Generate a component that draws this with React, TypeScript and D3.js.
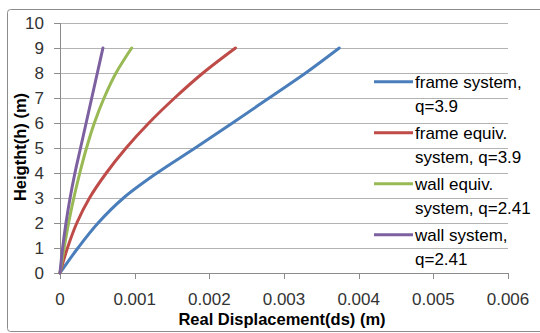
import React from 'react';
import * as d3 from 'd3';

// heights (m) and displacements (m)
const heights = [0, 1, 2, 3, 4, 5, 6, 7, 8, 9];
const frameSystem = [0, 0.00024, 0.00051, 0.00085, 0.0013, 0.00181, 0.00231, 0.0028, 0.00329, 0.00374];
const frameEquiv = [0, 0.0001, 0.000225, 0.000395, 0.00062, 0.000885, 0.00119, 0.001535, 0.001915, 0.00235];
const wallEquiv = [0, 0.000055, 0.000115, 0.000185, 0.000265, 0.000355, 0.00046, 0.00059, 0.00075, 0.00096];
const wallSystem = [0, 0.000035, 0.00008, 0.000135, 0.0002, 0.000275, 0.00035, 0.000425, 0.0005, 0.000575];

const seriesNames = [
  ['frame system,', 'q=3.9'],
  ['frame equiv.', 'system, q=3.9'],
  ['wall equiv.', 'system, q=2.41'],
  ['wall system,', 'q=2.41'],
];
const seriesColors = ['#4a7ebb', '#be4b48', '#98b954', '#7d60a0'];
const xTicks = [0, 0.001, 0.002, 0.003, 0.004, 0.005, 0.006];
const yTicks = [0, 1, 2, 3, 4, 5, 6, 7, 8, 9, 10];

const W = 540;
const H = 333;
const left = 60, right = 508, top = 23, bottom = 273;
const font = '"Liberation Sans", Arial, sans-serif';

export default function App() {
  const x = d3.scaleLinear().domain([0, 0.006]).range([left, right]);
  const y = d3.scaleLinear().domain([0, 10]).range([bottom, top]);
  const allSeries = [frameSystem, frameEquiv, wallEquiv, wallSystem];

  const line = d3.line<[number, number]>()
    .x(d => x(d[0]))
    .y(d => y(d[1]))
    .curve(d3.curveCatmullRom.alpha(0.5));

  return (
    <svg width={W} height={H} style={{ position: 'absolute', left: 0, top: 0 }} fontFamily={font}>
      <rect x={0} y={0} width={W} height={H} fill="#fff" />
      <rect x={7.5} y={9.5} width={W} height={322} rx={3} fill="#fff" stroke="#8c8c8c" strokeWidth={1} />

      {/* grid */}
      {yTicks.map(t => (
        <line key={'g' + t} x1={left} x2={right} y1={Math.round(y(t)) + 0.5} y2={Math.round(y(t)) + 0.5}
          stroke="#b3b3b3" strokeWidth={1} />
      ))}

      {/* axes */}
      <line x1={left + 0.5} x2={left + 0.5} y1={top} y2={bottom + 0.5} stroke="#8c8c8c" />
      <line x1={left} x2={right} y1={bottom + 0.5} y2={bottom + 0.5} stroke="#8c8c8c" />
      {yTicks.map(t => (
        <g key={'yt' + t}>
          <line x1={left - 6} x2={left} y1={Math.round(y(t)) + 0.5} y2={Math.round(y(t)) + 0.5} stroke="#8c8c8c" />
          <text x={44} y={y(t)} dy="0.35em" textAnchor="end" fontSize={17} fill="#333">{t}</text>
        </g>
      ))}
      {xTicks.map(t => (
        <g key={'xt' + t}>
          <line x1={Math.round(x(t)) + 0.5} x2={Math.round(x(t)) + 0.5} y1={bottom} y2={bottom + 6} stroke="#8c8c8c" />
          <text x={x(t)} y={299} dy="0.35em" textAnchor="middle" fontSize={17} fill="#333">{t}</text>
        </g>
      ))}

      {/* axis titles */}
      <text x={282} y={319} dy="0.35em" textAnchor="middle" fontSize={16.5} fontWeight="bold" fill="#000">
        Real Displacement(ds) (m)
      </text>
      <text transform="translate(20,147) rotate(-90)" dy="0.35em" textAnchor="middle" fontSize={16.5}
        fontWeight="bold" fill="#000">
        Heigtht(h) (m)
      </text>

      {/* series */}
      {allSeries.map((s, i) => (
        <path key={'s' + i}
          d={line(s.map((v, j) => [v, heights[j]] as [number, number])) || ''}
          fill="none" stroke={seriesColors[i]} strokeWidth={3} strokeLinecap="round" strokeLinejoin="round" />
      ))}

      {/* legend */}
      {seriesNames.map((lines, i) => {
        const ly = 81.7 + i * 51;
        return (
          <g key={'l' + i}>
            <line x1={374} x2={413} y1={ly} y2={ly} stroke={seriesColors[i]} strokeWidth={3} />
            <text x={415} y={ly} dy="0.35em" fontSize={17} fill="#000">{lines[0]}</text>
            <text x={415} y={ly + 24.3} dy="0.35em" fontSize={17} fill="#000">{lines[1]}</text>
          </g>
        );
      })}
    </svg>
  );
}
